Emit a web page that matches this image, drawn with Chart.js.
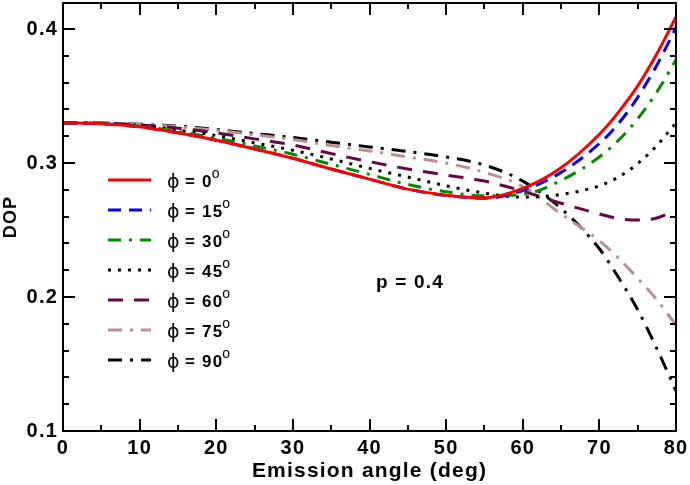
<!DOCTYPE html>
<html>
<head>
<meta charset="utf-8">
<script src="https://cdn.jsdelivr.net/npm/chart.js@4.4.0/dist/chart.umd.min.js"></script>
<style>
  html, body { margin: 0; padding: 0; background: #fff; }
  #dopChart { display: block; }
</style>
</head>
<body>
<canvas id="dopChart" width="690" height="485"></canvas>
<script>
// emission angle (deg)
const angles = [0, 5, 10, 15, 20, 25, 30, 35, 40, 45, 50, 55, 60, 65, 70, 72.5, 75, 77.5, 80];
// azimuth of each curve
const phiValues = [0, 15, 30, 45, 60, 75, 90];

// DOP, one array per phi
const dop0  = [0.330, 0.3293, 0.327, 0.3225, 0.317, 0.3105, 0.3035, 0.2955, 0.288, 0.2805, 0.276, 0.274, 0.281, 0.2965, 0.3215, 0.338, 0.3575, 0.3815, 0.409];
const dop15 = [0.330, 0.3293, 0.327, 0.3225, 0.317, 0.3105, 0.3035, 0.2955, 0.288, 0.2805, 0.2758, 0.2737, 0.2795, 0.293, 0.3145, 0.3295, 0.349, 0.373, 0.401];
const dop30 = [0.330, 0.3294, 0.3275, 0.3235, 0.3185, 0.3128, 0.3065, 0.299, 0.2915, 0.284, 0.2785, 0.2755, 0.2765, 0.287, 0.3045, 0.317, 0.333, 0.353, 0.377];
const dop45 = [0.330, 0.3296, 0.328, 0.3245, 0.3205, 0.315, 0.3095, 0.303, 0.296, 0.2895, 0.283, 0.2775, 0.2745, 0.2765, 0.283, 0.2895, 0.2995, 0.313, 0.330];
const dop60 = [0.330, 0.3297, 0.3285, 0.326, 0.3225, 0.318, 0.3135, 0.307, 0.301, 0.2955, 0.291, 0.2865, 0.279, 0.270, 0.262, 0.2585, 0.2575, 0.259, 0.265];
const dop75 = [0.330, 0.3298, 0.329, 0.327, 0.3245, 0.321, 0.3175, 0.313, 0.309, 0.3045, 0.300, 0.293, 0.2825, 0.262, 0.242, 0.229, 0.214, 0.198, 0.179];
const dop90 = [0.330, 0.3298, 0.329, 0.3275, 0.325, 0.322, 0.319, 0.3155, 0.312, 0.3085, 0.3045, 0.2985, 0.2865, 0.266, 0.236, 0.2145, 0.1905, 0.1615, 0.130];

const xTicks = [0, 10, 20, 30, 40, 50, 60, 70, 80];
const yTicks = [0.1, 0.2, 0.3, 0.4];
const pValue = 0.4;

const allDop = [dop0, dop15, dop30, dop45, dop60, dop75, dop90];
const colors = ['#ff0000', '#0000ff', '#008b00', '#000000', '#670748', '#bc8f8f', '#000000'];
const dashes = [[], [13, 8], [13, 8, 3, 8], [3, 7], [15, 11], [14, 8, 3, 8], [14, 8, 3, 8]];

const FONT = "'Liberation Sans', Arial, sans-serif";
const SPACING = '1.2px';

// minor ticks halfway / fifths between labelled ones
const xMinor = [];
for (let i = 0; i < xTicks.length - 1; i++) xMinor.push((xTicks[i] + xTicks[i + 1]) / 2);
const yMinor = [];
for (let i = 0; i < yTicks.length; i++) {
  for (let k = 1; k < 5; k++) yMinor.push(+(yTicks[i] + k * 0.02).toFixed(2));
}

const datasets = phiValues.map((phi, i) => ({
  label: 'ϕ = ' + phi + '°',
  phi: phi,
  data: angles.map((a, j) => ({ x: a, y: allDop[i][j] })),
  borderColor: colors[i],
  borderDash: dashes[i],
  borderWidth: 3,
  borderCapStyle: 'butt',
  pointRadius: 0,
  fill: false,
  cubicInterpolationMode: 'monotone'
}));

const spacingPlugin = {
  id: 'spacing',
  beforeInit(chart) { chart.ctx.letterSpacing = SPACING; },
  beforeDraw(chart) { chart.ctx.letterSpacing = SPACING; }
};

// frame + inward ticks on all four sides
const framePlugin = {
  id: 'frame',
  afterDraw(chart) {
    const { ctx, chartArea: a, scales } = chart;
    const xs = scales.x, ys = scales.y;
    ctx.save();
    ctx.strokeStyle = '#000';
    ctx.lineWidth = 2;
    ctx.setLineDash([]);
    ctx.strokeRect(a.left, a.top, a.right - a.left, a.bottom - a.top);
    ctx.beginPath();
    const xt = (v, len) => {
      const px = Math.round(xs.getPixelForValue(v));
      ctx.moveTo(px, a.bottom); ctx.lineTo(px, a.bottom - len);
      ctx.moveTo(px, a.top); ctx.lineTo(px, a.top + len);
    };
    const yt = (v, len) => {
      const py = Math.round(ys.getPixelForValue(v));
      ctx.moveTo(a.left, py); ctx.lineTo(a.left + len, py);
      ctx.moveTo(a.right, py); ctx.lineTo(a.right - len, py);
    };
    xTicks.forEach(v => xt(v, 12));
    xMinor.forEach(v => xt(v, 6));
    yTicks.forEach(v => yt(v, 12));
    yMinor.filter(v => v < ys.max).forEach(v => yt(v, 6));
    ctx.stroke();
    ctx.restore();
  }
};

// legend with superscript degree and the p label
const legendPlugin = {
  id: 'phiLegend',
  afterDatasetsDraw(chart) {
    const ctx = chart.ctx;
    ctx.save();
    ctx.letterSpacing = SPACING;
    ctx.textBaseline = 'alphabetic';
    ctx.textAlign = 'left';
    chart.data.datasets.forEach((ds, i) => {
      const y = 180 + i * 30;
      ctx.beginPath();
      ctx.strokeStyle = ds.borderColor;
      ctx.lineWidth = 3;
      ctx.lineCap = 'butt';
      ctx.setLineDash(ds.borderDash);
      ctx.moveTo(108, y);
      ctx.lineTo(151, y);
      ctx.stroke();
      ctx.setLineDash([]);

      ctx.fillStyle = '#000';
      ctx.font = "19px 'DejaVu Sans', sans-serif";
      ctx.fillText('ϕ', 167, y + 8);
      ctx.font = 'bold 17px ' + FONT;
      const txt = '= ' + ds.phi;
      ctx.fillText(txt, 185, y + 7);
      const w = ctx.measureText(txt).width;
      ctx.font = '14px ' + FONT;
      ctx.fillText('o', 184 + w, y - 2);
    });
    ctx.font = 'bold 19px ' + FONT;
    ctx.fillText('p = ' + pValue, 376, 288);
    ctx.restore();
  }
};

const ctx = document.getElementById('dopChart').getContext('2d');
new Chart(ctx, {
  type: 'line',
  data: { datasets: datasets },
  options: {
    responsive: false,
    animation: false,
    events: [],
    layout: { padding: { top: 3, right: 14, bottom: 0, left: 0 } },
    plugins: { legend: { display: false }, tooltip: { enabled: false } },
    scales: {
      x: {
        type: 'linear',
        min: 0,
        max: 80,
        grid: { display: false, drawTicks: false },
        border: { display: false },
        afterBuildTicks: s => { s.ticks = xTicks.map(v => ({ value: v })); },
        afterFit: s => { s.height = 54; s.paddingLeft = 0; s.paddingRight = 0; },
        ticks: {
          color: '#000',
          padding: 5,
          maxRotation: 0,
          font: { family: FONT, size: 20, weight: 'bold' }
        },
        title: {
          display: true,
          text: 'Emission angle (deg)',
          color: '#000',
          padding: { top: 0, bottom: 1 },
          font: { family: FONT, size: 21, weight: 'bold' }
        }
      },
      y: {
        type: 'linear',
        min: 0.1,
        max: 0.4194,
        grid: { display: false, drawTicks: false },
        border: { display: false },
        afterBuildTicks: s => { s.ticks = yTicks.map(v => ({ value: v })); },
        afterFit: s => { s.width = 63; s.paddingTop = 0; s.paddingBottom = 0; },
        ticks: {
          color: '#000',
          padding: 5,
          font: { family: FONT, size: 20, weight: 'bold' },
          callback: v => v.toFixed(1)
        },
        title: {
          display: true,
          text: 'DOP',
          color: '#000',
          padding: { top: 0, bottom: 0 },
          font: { family: FONT, size: 18, weight: 'bold' }
        }
      }
    }
  },
  plugins: [spacingPlugin, framePlugin, legendPlugin]
});
</script>
</body>
</html>
